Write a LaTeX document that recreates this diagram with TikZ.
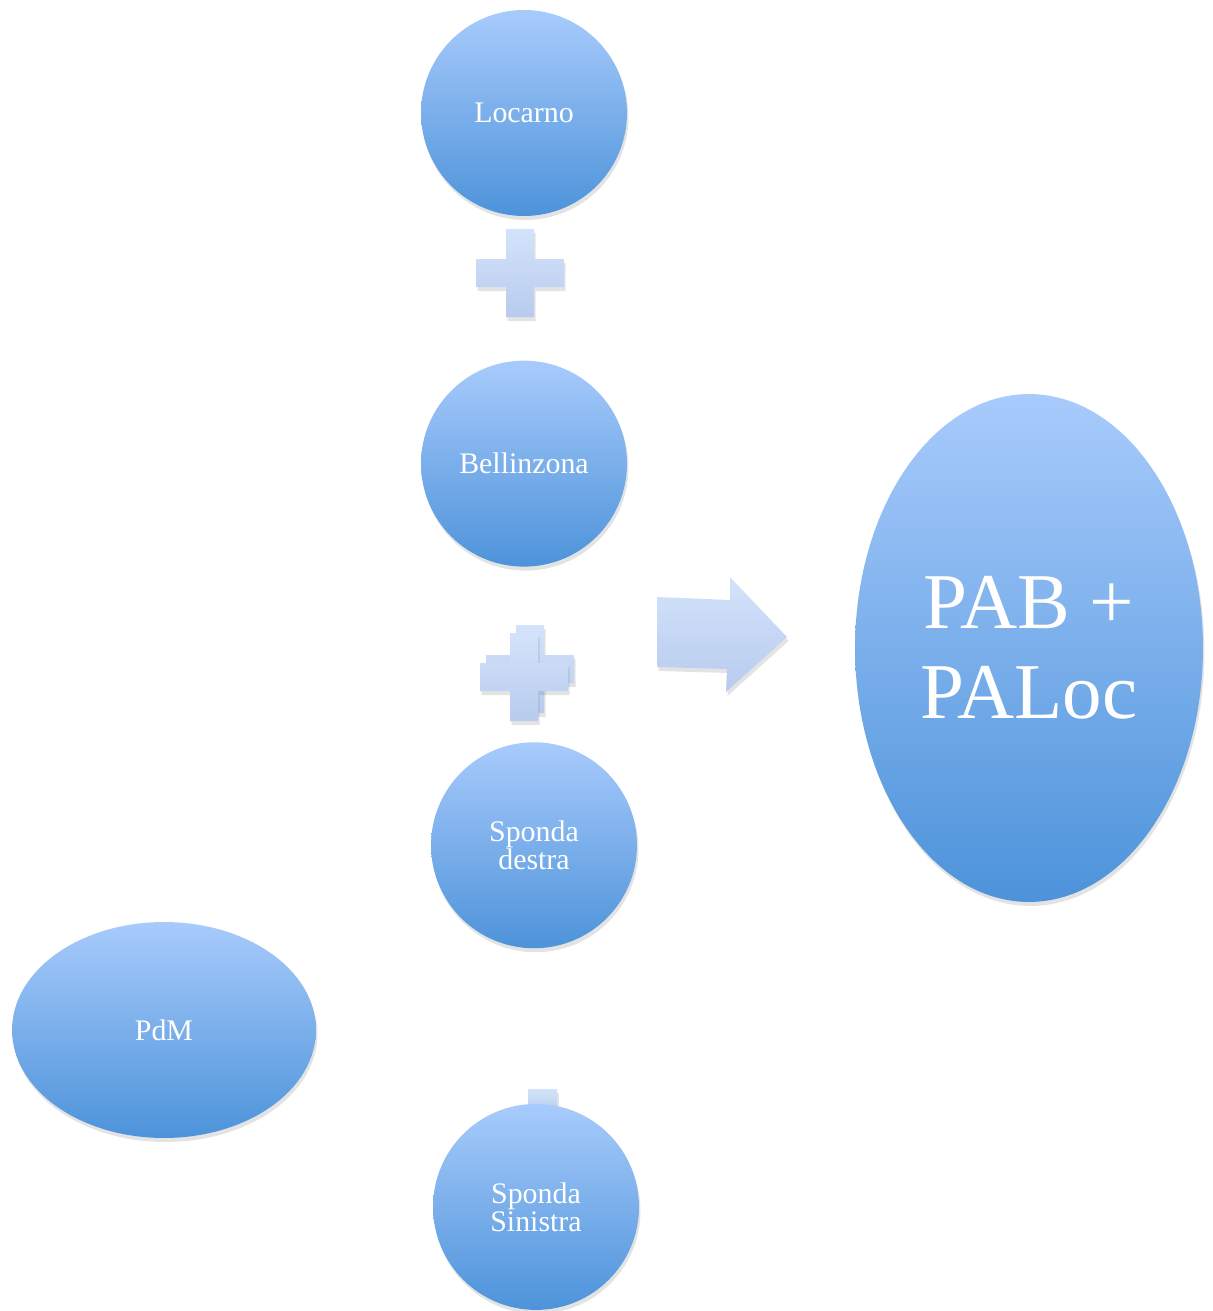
\documentclass[tikz,border=0pt]{standalone}
\usepackage{fontspec}
\setmainfont{Liberation Serif}
\usetikzlibrary{shapes.geometric,shadows,positioning}
\definecolor{bubtop}{HTML}{A8CBFC}
\definecolor{bubbot}{HTML}{4D93DA}
\definecolor{plustop}{HTML}{D3E3FB}
\definecolor{plusbot}{HTML}{B8CBEE}

\begin{document}
\begin{tikzpicture}[x=0.02cm, y=-0.02cm,
	softshadow/.style={drop shadow={opacity=0.22, shadow xshift=0.03cm, shadow yshift=-0.08cm}},
	bubble/.style={circle, minimum size=4.12cm, inner sep=0pt, top color=bubtop, bottom color=bubbot,
		text=white, align=center, font=\fontsize{17}{16}\selectfont, softshadow},
	plusfill/.style={top color=plustop, bottom color=plusbot, softshadow},
	plussign/.pic={\shade[plusfill] (-44,-14) rectangle (44,14) (-14,-44) rectangle (14,44);}]
		\useasboundingbox (0,0) rectangle (1213,1311);
		% the pieces
		\node[bubble] (loc) at (524,113) {Locarno};
		\node[bubble, below=2.88cm of loc] (bell) {Bellinzona};
		\node[bubble, below=3.5cm of bell, xshift=0.2cm] (sdx) {Sponda\\destra};
		\shade[plusfill] (528,1089) rectangle (557,1112);
		\node[bubble, below=3.1cm of sdx, xshift=0.04cm] (ssx) {Sponda\\Sinistra};
		\node[bubble, ellipse, minimum width=6.08cm, minimum height=4.32cm] (pdm) at (164,1030) {PdM};
		% plus signs and arrow
		\pic at (520,273) {plussign};
		\pic at (530,669) {plussign};
		\pic at (524,677) {plussign};
		\shade[plusfill] (657,597) -- (730,600) -- (730,577) -- (787,637) -- (726,692) -- (727,669) -- (657,667) -- cycle;
		% the result
		\node[bubble, ellipse, minimum width=6.96cm, minimum height=10.16cm,
			font=\fontsize{45}{51}\selectfont] (pab) at (1029,648) {PAB +\\PALoc};
	\end{tikzpicture}
\end{document}
